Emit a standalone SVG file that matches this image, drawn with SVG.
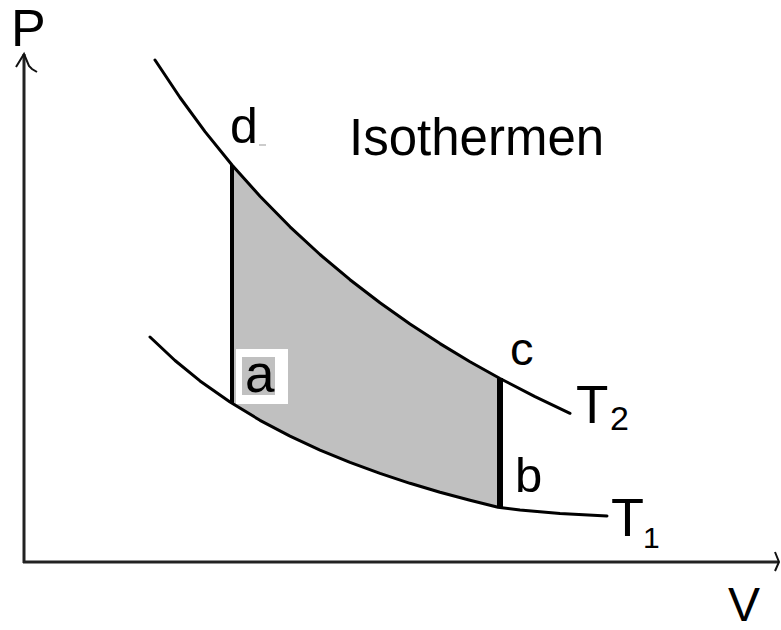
<svg xmlns="http://www.w3.org/2000/svg" width="781" height="630" viewBox="0 0 781 630">
<style>
.lbl{font-family:"Liberation Sans",Arial,sans-serif;fill:#000}
.curve{fill:none;stroke:#000;stroke-width:3;stroke-linejoin:round;stroke-linecap:round}
.axis{fill:none;stroke:#222;stroke-width:3}
</style>
<rect width="781" height="630" fill="#fff"/>
<g id="cycle-area">
<path d="M232,165 L260,196.3 L290,226.8 L320,254.5 L350,279.7 L380,302.8 L410,324 L440,343.6 L470,361.7 L500,378.5 L500,507.7 L470,500.3 L440,492.2 L410,483.3 L380,473.4 L350,462.4 L320,450.1 L290,436.1 L260,420.3 L232,403.3 Z" fill="#c0c0c0"/>
</g>
<g id="axes">
<line class="axis" x1="24" y1="54" x2="24" y2="563"/>
<line class="axis" x1="23" y1="562" x2="778" y2="562"/>
<polyline fill="none" stroke="#111" stroke-width="2" points="16,67 24,54 29,66 32,69 37,72"/>
<polyline fill="none" stroke="#111" stroke-width="2" points="775,552 779,562 775,571"/>
</g>
<g id="connectors">
<path id="isotherm-T2" class="curve" d="M155,60 L180,97.5 L205,131.6 L232,165 L260,196.3 L290,226.8 L320,254.5 L350,279.7 L380,302.8 L410,324 L440,343.6 L470,361.7 L500,378.5 L535,396.6 L570,413.3"/>
<path id="isotherm-T1" class="curve" d="M150,337 L175,360.5 L200,380.9 L230,402 L260,420.3 L290,436.1 L320,450.1 L350,462.4 L380,473.4 L410,483.3 L440,492.2 L470,500.3 L498,507.2 L520,510 L560,513.5 L607,516"/>
<line id="da" x1="232" y1="165" x2="232" y2="403" stroke="#000" stroke-width="4"/>
<line id="cb" x1="500" y1="378" x2="500" y2="508" stroke="#000" stroke-width="6"/>
</g>
<g id="label-P"><text class="lbl" x="11" y="46" font-size="52">P</text></g>
<g id="label-V"><text class="lbl" x="728" y="621" font-size="48">V</text></g>
<g id="label-Isothermen"><text class="lbl" x="349" y="155" font-size="51">Isothermen</text></g>
<g id="node-d"><text class="lbl" x="230" y="143" font-size="50">d</text><line x1="259" y1="145" x2="266" y2="145" stroke="#bbb" stroke-width="1.5"/></g>
<g id="node-a">
<rect x="236" y="349" width="52" height="55" fill="#fff"/>
<rect x="242" y="357" width="33" height="38" fill="#c0c0c0"/>
<text class="lbl" x="245" y="392" font-size="53">a</text>
</g>
<g id="node-c"><text class="lbl" x="510" y="365" font-size="47">c</text></g>
<g id="node-b"><text class="lbl" x="515" y="492" font-size="49">b</text></g>
<g id="label-T2"><text class="lbl" x="576" y="423" font-size="53">T</text><text class="lbl" x="610" y="430" font-size="34">2</text></g>
<g id="label-T1"><text class="lbl" x="611" y="536" font-size="54">T</text><text class="lbl" x="643" y="548" font-size="30">1</text></g>
</svg>
